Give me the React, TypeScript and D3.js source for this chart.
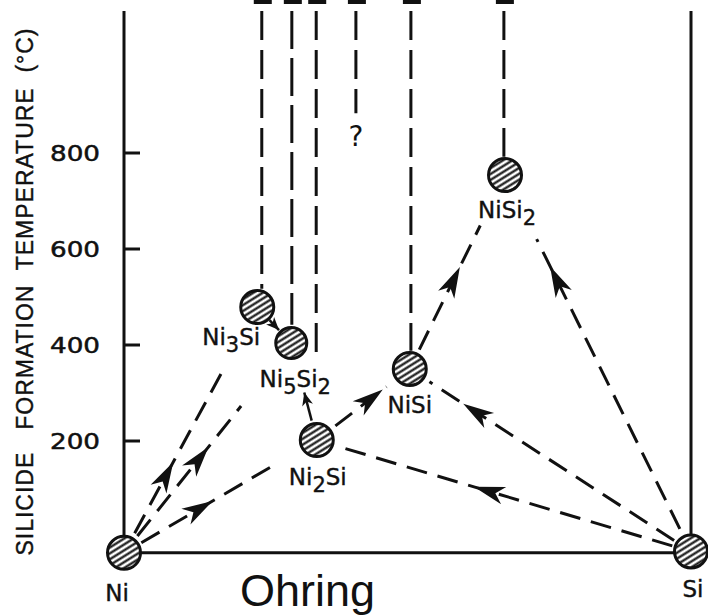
import React from "react"
import * as d3 from "d3"

// composition (at.% Si) and formation temperature of each phase
const phases = ["Ni", "Ni3Si", "Ni5Si2", "Ni2Si", "NiSi", "NiSi2", "Si"]
const phaseSi = [0, 23.5, 29.5, 34, 50.4, 67.2, 100]
const phaseT = [-33, 479, 404, 202, 350, 754, -30]

// vertical dashed lines (melting points off the top), their bottom ends in degC
const meltSi = [24.3, 29.6, 33.9, 40.9, 50.6, 67.0]
const meltBottomT = [517, 442, 375, 883, 388, 792]

// reaction paths: from, to, line start / end and arrow tip as fraction of the way
const pathFrom = ["Ni", "Ni", "Ni", "Ni2Si", "NiSi", "Si", "Si", "Si", "Ni3Si", "Ni2Si"]
const pathTo = ["Ni3Si", "Ni5Si2", "Ni2Si", "NiSi", "NiSi2", "NiSi2", "NiSi", "Ni2Si", "Ni5Si2", "Ni5Si2"]
const pathStart = [0.08, 0.08, 0.09, 0.2, 0.1, 0.06, 0.06, 0.05, 0.36, 0.2]
const pathEnd = [0.756, 0.7, 0.8, 0.75, 0.74, 0.83, 0.93, 0.95, 0.64, 0.49]
const pathTip = [0.37, 0.505, 0.46, 0.71, 0.526, 0.758, 0.81, 0.58, 0.64, 0.49]
const pathDashed = [true, true, true, true, true, true, true, true, false, false]

const tempTicks = [200, 400, 600, 800]
const yTitle = "SILICIDE   FORMATION  TEMPERATURE  (°C)"

// label pieces: [text, isSubscript]
const phaseLabels: [string, boolean][][] = [
  [["Ni", false]],
  [["Ni", false], ["3", true], ["Si", false]],
  [["Ni", false], ["5", true], ["Si", false], ["2", true]],
  [["Ni", false], ["2", true], ["Si", false]],
  [["NiSi", false]],
  [["NiSi", false], ["2", true]],
  [["Si", false]],
]
const labelDx = [-7, -26, 4, 1, 0, 2, 2]
const labelDy = [48, 38, 44, 45, 44, 43, 46]

export default function App() {
  const W = 708, H = 615
  const x = d3.scaleLinear().domain([0, 100]).range([124, 691])
  const y = d3.scaleLinear().domain([0, 800]).range([537, 153])
  const topT = 1096
  const baseT = -33
  const pos = (name: string): [number, number] => {
    const i = phases.indexOf(name)
    return [x(phaseSi[i]), y(phaseT[i])]
  }
  const lerp = (a: [number, number], b: [number, number], t: number): [number, number] =>
    [a[0] + (b[0] - a[0]) * t, a[1] + (b[1] - a[1]) * t]

  const arrowHead = (tip: [number, number], dir: number, L: number, w: number) => {
    const dx = Math.cos(dir), dy = Math.sin(dir)
    const nx = -dy, ny = dx
    const p = d3.path()
    p.moveTo(tip[0], tip[1])
    p.lineTo(tip[0] - L * dx + w * nx, tip[1] - L * dy + w * ny)
    p.lineTo(tip[0] - 0.72 * L * dx, tip[1] - 0.72 * L * dy)
    p.lineTo(tip[0] - L * dx - w * nx, tip[1] - L * dy - w * ny)
    p.closePath()
    return p.toString()
  }

  const font = "'Liberation Sans', Arial, sans-serif"
  const font2 = "'DejaVu Sans', sans-serif"

  return (
    <svg width={W} height={H} style={{ position: "absolute", left: 0, top: 0, background: "#fff" }}>
      <defs>
        <pattern id="hatch" patternUnits="userSpaceOnUse" width={10} height={5} patternTransform="rotate(-32)">
          <rect width={10} height={5} fill="#fff" />
          <line x1={0} x2={10} y1={2.5} y2={2.5} stroke="#111" strokeWidth={2.2} />
        </pattern>
      </defs>

      {/* frame */}
      <line x1={x(0)} x2={x(0)} y1={y(topT)} y2={y(baseT)} stroke="#111" strokeWidth={3} />
      <line x1={x(100)} x2={x(100)} y1={y(topT)} y2={y(baseT)} stroke="#111" strokeWidth={3} />
      <line x1={x(0)} x2={x(100)} y1={y(baseT)} y2={y(baseT)} stroke="#111" strokeWidth={3} />

      {tempTicks.map(t => (
        <g key={t}>
          <line x1={x(0)} x2={x(0) + 16} y1={y(t)} y2={y(t)} stroke="#111" strokeWidth={3} />
          <text x={x(0) - 24} y={y(t)} dy="0.36em" textAnchor="end" fontFamily={font2} fontSize={21}
            textLength={50} lengthAdjust="spacingAndGlyphs" fill="#111" stroke="#111" strokeWidth={0.5}>{t}</text>
        </g>
      ))}

      <text transform={`translate(33,${292}) rotate(-90)`} textAnchor="middle" fontFamily={font} fontSize={23}
        fill="#111" stroke="#111" strokeWidth={0.4} textLength={527} lengthAdjust="spacing"
        style={{ whiteSpace: "pre" }}>{yTitle}</text>

      {/* vertical dashed lines */}
      {meltSi.map((s, i) => (
        <g key={i}>
          <line x1={x(s)} x2={x(s)} y1={y(topT)} y2={y(meltBottomT[i])} stroke="#111" strokeWidth={3}
            strokeDasharray={i === 1 ? "38,9" : "29,10"} />
          <rect x={x(s) - 8} y={0} width={18} height={4} fill="#111" />
        </g>
      ))}
      <text x={x(40.9)} y={146} textAnchor="middle" fontFamily={font2} fontSize={28} fill="#111">?</text>

      {/* reaction paths */}
      {pathFrom.map((f, i) => {
        const a = pos(f), b = pos(pathTo[i])
        const p0 = lerp(a, b, pathStart[i]), p1 = lerp(a, b, pathEnd[i]), tip = lerp(a, b, pathTip[i])
        const dir = Math.atan2(b[1] - a[1], b[0] - a[0])
        const small = !pathDashed[i]
        return (
          <g key={i}>
            <line x1={p0[0]} y1={p0[1]} x2={p1[0]} y2={p1[1]} stroke="#111" strokeWidth={small ? 2.5 : 3}
              strokeDasharray={pathDashed[i] ? "21,11" : undefined} />
            <path d={arrowHead(tip, dir, small ? 13 : 31, small ? 5.5 : 9)} fill="#111" />
          </g>
        )
      })}

      {/* phases */}
      {phases.map((name, i) => {
        const [cx, cy] = pos(name)
        return (
          <g key={name}>
            <circle cx={cx} cy={cy} r={name === "Ni5Si2" ? 15.5 : 16.5} fill="url(#hatch)" stroke="#111" strokeWidth={3} />
            <text x={cx + labelDx[i]} y={cy + labelDy[i]} textAnchor="middle" fontFamily={font2} fontSize={23}
              fill="#111" stroke="#111" strokeWidth={0.4}>
              {phaseLabels[i].map(([t, sub], j) => {
                const prevSub = j > 0 && phaseLabels[i][j - 1][1]
                const dy = sub && !prevSub ? 7 : !sub && prevSub ? -7 : 0
                return <tspan key={j} dy={dy} fontSize={sub ? 21 : 23}>{t}</tspan>
              })}
            </text>
          </g>
        )
      })}

      <text x={240} y={606} fontFamily={font} fontSize={45} fill="#111">Ohring</text>
    </svg>
  )
}
